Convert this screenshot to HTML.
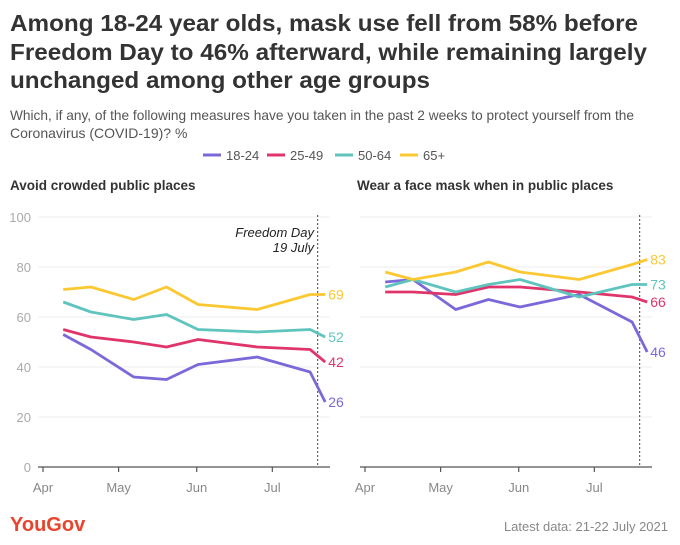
<!DOCTYPE html>
<html><head><meta charset="utf-8"><style>
body{margin:0;background:#fff;}
svg{display:block;font-family:"Liberation Sans",sans-serif;}
</style></head><body>
<svg id="chart" width="680" height="545" viewBox="0 0 680 545">
<text x="10" y="31" font-size="23" font-weight="bold" fill="#333" textLength="628" lengthAdjust="spacingAndGlyphs">Among 18-24 year olds, mask use fell from 58% before</text>
<text x="10" y="60" font-size="23" font-weight="bold" fill="#333" textLength="637" lengthAdjust="spacingAndGlyphs">Freedom Day to 46% afterward, while remaining largely</text>
<text x="10" y="88" font-size="23" font-weight="bold" fill="#333" textLength="420" lengthAdjust="spacingAndGlyphs">unchanged among other age groups</text>
<text x="10" y="120" font-size="14" fill="#555" textLength="624" lengthAdjust="spacingAndGlyphs">Which, if any, of the following measures have you taken in the past 2 weeks to protect yourself from the</text>
<text x="10" y="138" font-size="14" fill="#555">Coronavirus (COVID-19)? %</text>
<g id="legend"></g>
<text x="10" y="190" font-size="13.5" font-weight="bold" fill="#333">Avoid crowded public places</text>
<text x="357" y="190" font-size="13.5" font-weight="bold" fill="#333">Wear a face mask when in public places</text>
<g id="left"></g>
<g id="right"></g>
<text x="314" y="237" font-size="13" font-style="italic" fill="#222" text-anchor="end">Freedom Day</text>
<text x="314" y="252" font-size="13" font-style="italic" fill="#222" text-anchor="end">19 July</text>
<text x="10" y="531" font-size="20" font-weight="bold" fill="#e8452c">YouGov</text>
<text x="668" y="531" font-size="13" fill="#888" text-anchor="end">Latest data: 21-22 July 2021</text>
</svg>
<script>
const seriesNames = ["18-24","25-49","50-64","65+"];
const colors = ["#7b68d9","#e0356b","#5fc4bd","#fcc832"];
const dates = [8,19,36,49,61.5,85,106,112]; // days since 1 April
const tickLabels = ["Apr","May","Jun","Jul"];
const tickDays = [0,30,61,91];
const freedomDay = 109;
const yTicks = [0,20,40,60,80,100];
const leftValues = [
  [53,47,36,35,41,44,38,26],
  [55,52,50,48,51,48,47,42],
  [66,62,59,61,55,54,55,52],
  [71,72,67,72,65,63,69,69]
];
const rightValues = [
  [74,75,63,67,64,69,58,46],
  [70,70,69,72,72,70,68,66],
  [72,75,70,73,75,68,73,73],
  [78,75,78,82,78,75,81,83]
];
const NS = "http://www.w3.org/2000/svg";
function mk(tag, attrs, parent){const e=document.createElementNS(NS,tag);for(const k in attrs)e.setAttribute(k,attrs[k]);parent.appendChild(e);return e;}
const yScale = v => 467 - v*2.5;

const lg = document.getElementById('legend');
const lx = [203,267,335,400];
seriesNames.forEach((n,i)=>{
  const l = mk('line',{x1:lx[i],x2:lx[i]+18,y1:155,y2:155,stroke:colors[i],'stroke-width':3},lg);
  
  
  const t = mk('text',{x:lx[i]+23,y:160,'font-size':13,fill:'#555'},lg);
  t.textContent = n;
  
  
});

function panel(gid, x0, gx1, gx2, values, showY){
  const g = document.getElementById(gid);
  const xScale = d => x0 + d*2.52;
  yTicks.forEach(v=>{
    if(v>0){
      const gl = mk('line',{x1:gx1,x2:gx2,y1:yScale(v),y2:yScale(v),stroke:'#ececec','stroke-width':1},g);
      
      
    }
    if(showY){
      const t = mk('text',{x:31,y:yScale(v)+5,'font-size':13,fill:'#aaa','text-anchor':'end'},g);
      t.textContent = v;
      
      
    }
  });
  const ax = mk('line',{x1:gx1,x2:gx2,y1:467,y2:467,stroke:'#555','stroke-width':1.2},g);
  
  
  tickDays.forEach((d,i)=>{
    const tk = mk('line',{x1:xScale(d),x2:xScale(d),y1:467,y2:472,stroke:'#555','stroke-width':1.2},g);
    
    
    const t = mk('text',{x:xScale(d),y:492,'font-size':13,fill:'#888','text-anchor':'middle'},g);
    t.textContent = tickLabels[i];
    
    
  });
  const fd = mk('line',{x1:xScale(freedomDay),x2:xScale(freedomDay),y1:215,y2:467,stroke:'#444','stroke-width':1,'stroke-dasharray':'2,2'},g);
  
  
  values.forEach((vals,i)=>{
    const pts = vals.map((v,j)=>xScale(dates[j]).toFixed(1)+','+yScale(v).toFixed(1)).join(' ');
    const p = mk('polyline',{points:pts,fill:'none',stroke:colors[i],'stroke-width':2.8,'stroke-linejoin':'round'},g);
    
    
  });
  const lxp = xScale(dates[dates.length-1]) + 3;
  values.forEach((vals,i)=>{
    const v = vals[vals.length-1];
    const t = mk('text',{x:lxp,y:yScale(v)+5,'font-size':14,fill:colors[i]},g);
    t.textContent = v;
    
    
  });
}
panel('left', 43, 38, 330, leftValues, true);
panel('right', 365, 360, 652, rightValues, false);
</script>
</body></html>
